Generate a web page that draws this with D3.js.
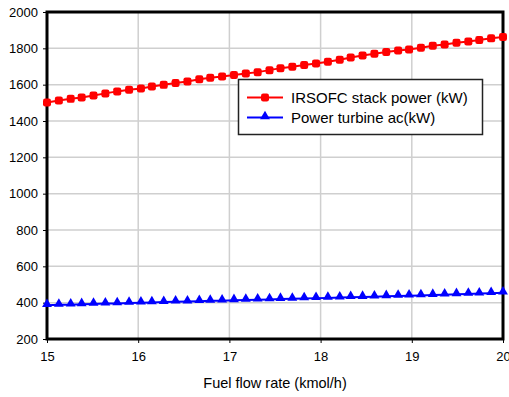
<!DOCTYPE html>
<html>
<head>
<meta charset="utf-8">
<script src="https://cdn.jsdelivr.net/npm/d3@7"></script>
<style>
  html, body { margin: 0; padding: 0; background: #fff; }
  svg { display: block; font-family: "Liberation Sans", Arial, sans-serif; }
</style>
</head>
<body>
<svg id="chart" width="509" height="397"></svg>
<script>
// Fuel flow rate (kmol/h)
const fuelFlow = [15.00, 15.13, 15.26, 15.38, 15.51, 15.64, 15.77, 15.90, 16.03, 16.15,
                  16.28, 16.41, 16.54, 16.67, 16.79, 16.92, 17.05, 17.18, 17.31, 17.44,
                  17.56, 17.69, 17.82, 17.95, 18.08, 18.21, 18.33, 18.46, 18.59, 18.72,
                  18.85, 18.97, 19.10, 19.23, 19.36, 19.49, 19.62, 19.74, 19.87, 20.00];
// IRSOFC stack power (kW)
const stackPower = [1502, 1513, 1522, 1529, 1540, 1552, 1563, 1572, 1579, 1590,
                    1599, 1609, 1618, 1630, 1638, 1645, 1653, 1662, 1669, 1680,
                    1691, 1699, 1708, 1717, 1726, 1737, 1750, 1761, 1770, 1780,
                    1788, 1794, 1803, 1814, 1821, 1831, 1838, 1846, 1855, 1862];
// Power turbine ac (kW)
const turbinePower = [386, 388, 389, 391, 393, 395, 396, 398, 400, 401,
                      403, 405, 406, 408, 410, 411, 413, 415, 416, 418,
                      420, 421, 423, 425, 426, 428, 430, 431, 433, 435,
                      437, 438, 440, 442, 444, 446, 448, 450, 452, 455];

const xTicks = [15, 16, 17, 18, 19, 20];
const yTicks = [200, 400, 600, 800, 1000, 1200, 1400, 1600, 1800, 2000];
const seriesNames = ["IRSOFC stack power (kW)", "Power turbine ac(kW)"];
const xTitle = "Fuel flow rate (kmol/h)";

const svg = d3.select("#chart");
const plot = { left: 47, right: 503, top: 12, bottom: 339 };

const x = d3.scaleLinear().domain([15, 20]).range([plot.left, plot.right]);
const y = d3.scaleLinear().domain([200, 2000]).range([plot.bottom, plot.top]);

// grid
const grid = svg.append("g");
grid.selectAll("line.gx").data(xTicks).join("line")
  .attr("x1", d => x(d)).attr("x2", d => x(d))
  .attr("y1", plot.top).attr("y2", plot.bottom)
  .attr("stroke", "#cfcfcf").attr("stroke-width", 1.5);
grid.selectAll("line.gy").data(yTicks).join("line")
  .attr("y1", d => y(d)).attr("y2", d => y(d))
  .attr("x1", plot.left).attr("x2", plot.right)
  .attr("stroke", "#cfcfcf").attr("stroke-width", 1.5);

// axes
const xAxis = svg.append("g")
  .attr("transform", `translate(0,${plot.bottom})`)
  .call(d3.axisBottom(x).tickValues(xTicks).tickFormat(d3.format("d")).tickSize(4).tickPadding(6));
const yAxis = svg.append("g")
  .attr("transform", `translate(${plot.left},0)`)
  .call(d3.axisLeft(y).tickValues(yTicks).tickFormat(d3.format("d")).tickSize(4).tickPadding(5));
[xAxis, yAxis].forEach(a => {
  a.select(".domain").remove();
  a.selectAll(".tick line").attr("stroke", "#000").attr("stroke-width", 1);
  a.selectAll(".tick text").attr("fill", "#000").style("font-size", "13px")
    .style("font-family", "'Liberation Sans', Arial, sans-serif");
});
xAxis.selectAll(".tick text").attr("dy", "0.9em");

// frame
svg.append("rect")
  .attr("x", plot.left).attr("y", plot.top)
  .attr("width", plot.right - plot.left).attr("height", plot.bottom - plot.top)
  .attr("fill", "none").attr("stroke", "#000").attr("stroke-width", 3);

// series
const line = d3.line().x(d => x(d[0])).y(d => y(d[1]));
const redData = fuelFlow.map((f, i) => [f, stackPower[i]]);
const blueData = fuelFlow.map((f, i) => [f, turbinePower[i]]);

svg.append("path").datum(redData).attr("d", line)
  .attr("fill", "none").attr("stroke", "#ff0000").attr("stroke-width", 2);
svg.append("g").selectAll("rect").data(redData).join("rect")
  .attr("x", d => x(d[0]) - 4).attr("y", d => y(d[1]) - 4)
  .attr("width", 8).attr("height", 8).attr("rx", 2.2)
  .attr("fill", "#ff0000");

svg.append("path").datum(blueData).attr("d", line)
  .attr("fill", "none").attr("stroke", "#0000ff").attr("stroke-width", 2);
const tri = d3.symbol().type(d3.symbolTriangle).size(42);
svg.append("g").selectAll("path").data(blueData).join("path")
  .attr("d", tri)
  .attr("transform", d => `translate(${x(d[0])},${y(d[1]) - 1})`)
  .attr("fill", "#0000ff");

// legend
const lg = svg.append("g");
lg.append("rect").attr("x", 238.5).attr("y", 79.5).attr("width", 244).attr("height", 55)
  .attr("fill", "#fff").attr("stroke", "#222").attr("stroke-width", 1.5);
const rows = [
  { name: seriesNames[0], color: "#ff0000", ly: 97.5, kind: "sq" },
  { name: seriesNames[1], color: "#0000ff", ly: 117.5, kind: "tri" }
];
rows.forEach(r => {
  lg.append("line").attr("x1", 247).attr("x2", 283).attr("y1", r.ly).attr("y2", r.ly)
    .attr("stroke", r.color).attr("stroke-width", 2);
  if (r.kind === "sq") {
    lg.append("rect").attr("x", 265 - 4).attr("y", r.ly - 4).attr("width", 8).attr("height", 8)
      .attr("rx", 2.2).attr("fill", r.color);
  } else {
    lg.append("path").attr("d", tri).attr("transform", `translate(265,${r.ly - 1})`).attr("fill", r.color);
  }
  lg.append("text").attr("x", 291).attr("y", r.ly + 5.5).text(r.name)
    .style("font-size", "15px").attr("fill", "#000");
});

// axis title
svg.append("text").attr("x", 275).attr("y", 388).attr("text-anchor", "middle")
  .style("font-size", "14.5px").attr("fill", "#000").text(xTitle);
</script>
</body>
</html>
